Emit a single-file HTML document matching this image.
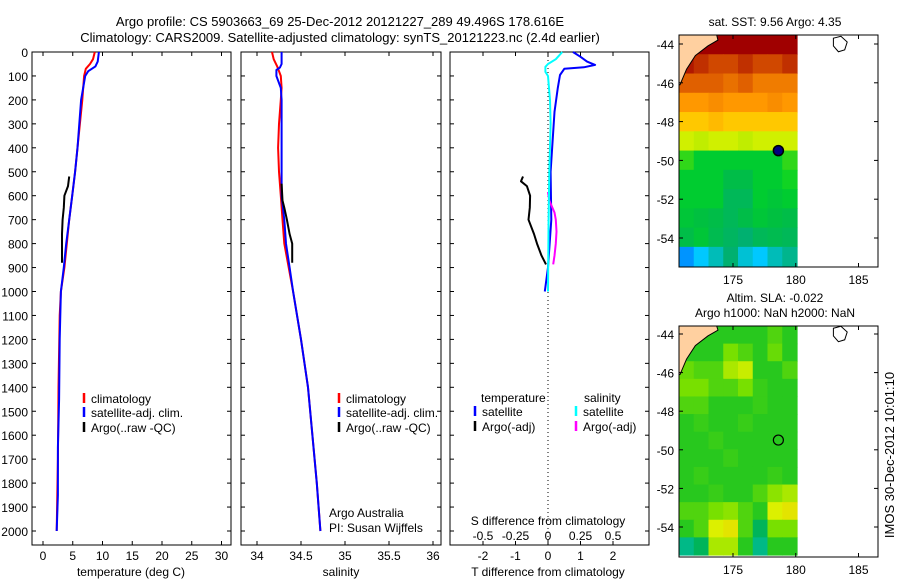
<!DOCTYPE html>
<html><head><meta charset="utf-8"><style>
body{margin:0;background:#fff;}
svg{display:block;font-family:"Liberation Sans",sans-serif;}
</style></head><body>
<svg id="fig" width="900" height="580" viewBox="0 0 900 580">
<text x="340" y="26" text-anchor="middle" font-size="13">Argo profile: CS 5903663_69 25-Dec-2012 20121227_289 49.496S 178.616E</text>
<text x="340" y="42" text-anchor="middle" font-size="13">Climatology: CARS2009. Satellite-adjusted climatology: synTS_20121223.nc (2.4d earlier)</text>
<g id="g"></g>
</svg>
<script>
// ---------- profile data ----------
const tClimDepth=[0,30,50,70,100,200,300,400,500,600,700,800,900,1000,1100,1400,1700,2000];
const tClimVal=[8.7,8.4,7.9,7.2,6.9,6.6,6.2,5.8,5.4,4.9,4.4,4.0,3.6,3.0,2.8,2.6,2.5,2.3];
const tSatDepth=[0,40,60,80,100,200,300,400,500,600,700,800,900,1000,1200,1450,1650,1850,2000];
const tSatVal=[9.4,9.2,8.8,7.6,7.1,6.4,6.1,5.8,5.4,4.9,4.4,3.9,3.5,3.0,2.8,2.7,2.5,2.5,2.3];
const tArgoDepth=[520,560,600,650,700,760,800,880];
const tArgoVal=[4.4,4.2,3.6,3.5,3.3,3.2,3.2,3.2];
const sClimDepth=[0,30,60,100,150,200,300,400,500,600,700,800,900,1000,1200,1400,1600,1800,2000];
const sClimVal=[34.17,34.19,34.23,34.27,34.28,34.27,34.25,34.24,34.25,34.27,34.29,34.31,34.36,34.41,34.5,34.58,34.63,34.68,34.72];
const sSatDepth=[0,50,65,75,100,150,200,300,400,500,600,700,800,900,1000,1200,1400,1600,1800,2000];
const sSatVal=[34.28,34.28,34.26,34.22,34.22,34.27,34.28,34.28,34.28,34.28,34.28,34.31,34.33,34.37,34.41,34.5,34.58,34.63,34.68,34.72];
const sArgoDepth=[550,620,650,700,760,800,840,880];
const sArgoVal=[34.28,34.29,34.31,34.34,34.37,34.4,34.4,34.4];
const dTSatDepth=[0,20,40,54,64,70,96,150,250,500,700,900,1000];
const dTSatVal=[0.77,1.0,1.2,1.45,1.1,0.5,0.37,0.3,0.2,0.08,0.1,0.0,-0.1];
const dSSatDepth=[0,30,50,62,83,100,200,300,500,700,1000];
const dSSatVal=[0.11,0.06,0.0,-0.02,-0.02,0.0,0.015,0.02,0.01,0.005,0.0];
const dTArgoDepth=[520,540,560,600,650,700,760,800,850,887];
const dTArgoVal=[-0.77,-0.83,-0.65,-0.55,-0.56,-0.6,-0.43,-0.34,-0.2,-0.06];
const dSArgoDepth=[585,620,670,700,750,800,850,887];
const dSArgoVal=[0.0,0.01,0.05,0.06,0.065,0.06,0.05,0.04];
const depthTicks=[0,100,200,300,400,500,600,700,800,900,1000,1100,1200,1300,1400,1500,1600,1700,1800,1900,2000];
const tTicks=[0,5,10,15,20,25,30];
const sTicks=[34,34.5,35,35.5,36];
const dTTicks=[-2,-1,0,1,2];
const dSTicks=[-0.5,-0.25,0,0.25,0.5];
// ---------- map data ----------
const mapLonTicks=[175,180,185];
const mapLatTicks=[-44,-46,-48,-50,-52,-54];
const sstGrid=[
[12,12,12,12,12,12,12,12],
[11.5,11,10.5,10.5,11,10.5,10.5,11],
[10,10,10,9.7,10,9.5,9.5,9.5],
[9,9,9.2,9,9,9,9.2,9],
[8,8,8.3,8,8,8,8,8],
[7,6.8,7,7,6.8,7,7,7],
[5.5,5,5,5,5,5,5,5.5],
[5,5,5,4.5,4.5,5,5,5.3],
[5,5,5,4.3,4.3,5,4.8,5],
[4.8,4.6,4.5,4.3,4.5,4.8,4.6,4.5],
[4.5,4.8,4.4,4.2,4,4.3,4.4,4.3],
[2.5,3,3.5,4,3.3,3,3.5,3.8]];
const slaGrid=[
[0,0,0,0,0,0,0.05,0],
[0,0,0,0.1,0.05,0,0.08,0],
[0.08,0.05,0.05,0.15,0.18,0,0,0.05],
[0.1,0.1,0.05,0.05,0.1,0.02,0,0],
[0.05,0.05,0,0,0,0.02,0,0],
[0,0.02,0,0,0.02,0,0,0],
[0,0,0.02,0,0,0,0,0],
[0,0,0,0.02,0,0,0,0],
[0,0.02,0,0,0,0,0.02,0],
[0,0,0.02,0,0,0.05,0.12,0.15],
[0.05,0.05,0.1,0.12,0.05,0,0.2,0.22],
[0,0.05,0.2,0.22,0.05,-0.1,0.1,0.1],
[-0.15,-0.1,0.15,0.15,0,-0.15,0,0]];
const argoLon=[178.616], argoLat=[-49.496];

const NS='http://www.w3.org/2000/svg';
const G=document.getElementById('g');
function el(tag,attrs,parent){const e=document.createElementNS(NS,tag);for(const k in attrs)e.setAttribute(k,attrs[k]);(parent||G).appendChild(e);return e;}
function txt(x,y,s,anchor,size,parent){const t=el('text',{x:x,y:y,'font-size':size||12,'text-anchor':anchor||'start'},parent);t.textContent=s;return t;}
const TOP=52,BOT=545;
const yD=d=>TOP+d*0.2395;

function panel(name,x0,x1,xs,ticks,fmt){
  const r=el('rect',{x:x0,y:TOP,width:x1-x0,height:BOT-TOP,fill:'none',stroke:'#000','stroke-width':1});
  
  
  ticks.forEach(v=>{const x=xs(v);
    el('line',{x1:x,x2:x,y1:TOP,y2:TOP+4,stroke:'#000'});
    el('line',{x1:x,x2:x,y1:BOT,y2:BOT-4,stroke:'#000'});
    const t=txt(x,BOT+15,fmt?fmt(v):String(v),'middle');
    
    
  });
  depthTicks.forEach(d=>{const y=yD(d);
    el('line',{x1:x0,x2:x0+4,y1:y,y2:y,stroke:'#000'});
    el('line',{x1:x1,x2:x1-4,y1:y,y2:y,stroke:'#000'});
  });
}
function series(name,xs,depths,vals,color,w){
  let p='';depths.forEach((d,i)=>{p+=(i?'L':'M')+xs(vals[i]).toFixed(1)+','+yD(d).toFixed(1);});
  const e=el('path',{d:p,fill:'none',stroke:color,'stroke-width':w||2,'stroke-linejoin':'round'});
  
  
}
function legend(name,x,y,color,label){
  el('line',{x1:x,x2:x,y1:y-10,y2:y,stroke:color,'stroke-width':2.5});
  const t=txt(x+7,y,label);
  
  
}
depthTicks.forEach(d=>{const t=txt(28,yD(d)+5,String(d),'end');
  
  });

const xT=v=>43+v*5.95;
panel('temperature-panel',32,231,xT,tTicks);
series('temp-climatology-line',xT,tClimDepth,tClimVal,'#f00');
series('temp-satellite-line',xT,tSatDepth,tSatVal,'#00f');
series('temp-argo-line',xT,tArgoDepth,tArgoVal,'#000');
legend('legend-climatology',84,403,'#f00','climatology');
legend('legend-satellite-adj',84,417,'#00f','satellite-adj. clim.');
legend('legend-argo',84,432,'#000','Argo(..raw -QC)');
let t=txt(131,576,'temperature (deg C)','middle');



const xS=v=>257+(v-34)*88;
panel('salinity-panel',241,441,xS,sTicks);
series('sal-climatology-line',xS,sClimDepth,sClimVal,'#f00');
series('sal-satellite-line',xS,sSatDepth,sSatVal,'#00f');
series('sal-argo-line',xS,sArgoDepth,sArgoVal,'#000');
legend('legend-sal-climatology',339,403,'#f00','climatology');
legend('legend-sal-satellite-adj',339,417,'#00f','satellite-adj. clim.');
legend('legend-sal-argo',339,432,'#000','Argo(..raw -QC)');
t=txt(329,517,'Argo Australia');
t=txt(329,532,'PI: Susan Wijffels');
t=txt(341,576,'salinity','middle');

const xDT=v=>548+v*32.5;
const xDS=v=>548+v*130;
panel('difference-panel',450,649,xDT,dTTicks);
dSTicks.forEach(v=>{const tt=txt(xDS(v),540,String(v),'middle');
  });
el('line',{x1:548,x2:548,y1:TOP,y2:BOT,stroke:'#000','stroke-dasharray':'1,3'});
series('dT-argo-line',xDT,dTArgoDepth,dTArgoVal,'#000');
series('dT-satellite-line',xDT,dTSatDepth,dTSatVal,'#00f');
series('dS-argo-line',xDS,dSArgoDepth,dSArgoVal,'#f0f');
series('dS-satellite-line',xDS,dSSatDepth,dSSatVal,'#0ff');
t=txt(481,402,'temperature');
t=txt(584,402,'salinity');
legend('legend-t-satellite',475,416,'#00f','satellite');
legend('legend-t-argo',475,431,'#000','Argo(-adj)');
legend('legend-s-satellite',576,416,'#0ff','satellite');
legend('legend-s-argo',576,431,'#f0f','Argo(-adj)');
t=txt(548,525,'S difference from climatology','middle');
t=txt(548,576,'T difference from climatology','middle');

function lerpColor(stops,v){
  if(v<=stops[0][0])return 'rgb('+stops[0][1].join(',')+')';
  for(let i=1;i<stops.length;i++){if(v<=stops[i][0]){const a=stops[i-1],b=stops[i],f=(v-a[0])/(b[0]-a[0]);
    return 'rgb('+[0,1,2].map(k=>Math.round(a[1][k]+(b[1][k]-a[1][k])*f)).join(',')+')';}}
  const l=stops[stops.length-1][1];return 'rgb('+l.join(',')+')';
}
const sstStops=[[2,[0,96,255]],[3,[0,200,255]],[4,[0,176,112]],[4.6,[0,192,64]],[5.2,[0,210,40]],[6,[128,224,0]],[7,[208,240,0]],[8,[255,200,0]],[9,[255,152,0]],[10,[224,96,0]],[11,[192,48,0]],[12,[160,0,0]]];
const slaStops=[[-0.2,[0,190,180]],[-0.1,[0,180,90]],[0,[40,200,30]],[0.1,[120,224,0]],[0.2,[220,240,0]],[0.3,[255,180,0]]];
function mapPanel(name,yTop,yBot,lat44,lat54,grid,stops){
  const lon=v=>733+(v-175)*12.55;
  const lat=v=>lat44+(v-(-44))*(lat54-lat44)/(-10);
  const x0=679,x1=878;
  const gx0=679,gx1=lon(180.1),gy0=yTop,gy1=lat(-55.45);
  const nr=grid.length,nc=grid[0].length;
  const g=el('g',{});
  
  
  grid.forEach((row,r)=>row.forEach((v,c)=>{
    const cell=el('rect',{x:(gx0+(gx1-gx0)*c/nc).toFixed(2),y:(gy0+(gy1-gy0)*r/nr).toFixed(2),width:((gx1-gx0)/nc+0.6).toFixed(2),height:((gy1-gy0)/nr+0.6).toFixed(2),fill:lerpColor(stops,v)},g);
    
    
  }));
  const land=el('path',{d:`M${x0},${yTop} L${lon(173.7)},${yTop} L${lon(173.8)},${lat(-43.8)} L${lon(173)},${lat(-44.1)} L${lon(172)},${lat(-44.6)} L${lon(171.3)},${lat(-45.3)} L${x0+1},${lat(-46.1)} L${x0},${lat(-46.1)} Z`,fill:'#ffd0a0',stroke:'#000','stroke-width':1});
  
  const isl=el('path',{d:`M${lon(183)},${lat(-43.7)} L${lon(183.6)},${lat(-43.6)} L${lon(184.1)},${lat(-43.9)} L${lon(183.9)},${lat(-44.3)} L${lon(183.4)},${lat(-44.4)} L${lon(183)},${lat(-44.1)} Z`,fill:'#fff',stroke:'#000'});
  
  const fr=el('rect',{x:x0,y:yTop,width:x1-x0,height:yBot-yTop,fill:'none',stroke:'#000'});
  
  mapLonTicks.forEach(v=>{const x=lon(v);el('line',{x1:x,x2:x,y1:yTop,y2:yTop+4,stroke:'#000'});el('line',{x1:x,x2:x,y1:yBot,y2:yBot-4,stroke:'#000'});
    const tt=txt(x,yBot+17,String(v),'middle');});
  mapLatTicks.forEach(v=>{const y=lat(v);el('line',{x1:x0,x2:x0+4,y1:y,y2:y,stroke:'#000'});el('line',{x1:x1,x2:x1-4,y1:y,y2:y,stroke:'#000'});
    const tt=txt(674,y+5,String(v),'end');});
  return {lon,lat};
}
const m1=mapPanel('sst-map',35,267,44,238,sstGrid,sstStops);
argoLon.forEach((lo,i)=>{const c=el('circle',{cx:m1.lon(lo),cy:m1.lat(argoLat[i]),r:5,fill:'#000080',stroke:'#000','stroke-width':1.5});
  });
t=txt(775,26,'sat. SST: 9.56 Argo: 4.35','middle');
const m2=mapPanel('sla-map',326,557,334,527,slaGrid,slaStops);
argoLon.forEach((lo,i)=>{const c=el('circle',{cx:m2.lon(lo),cy:m2.lat(argoLat[i]),r:5,fill:'none',stroke:'#000','stroke-width':1.2});
  });
t=txt(775,302,'Altim. SLA: -0.022','middle');
t=txt(775,317,'Argo h1000: NaN h2000: NaN','middle');
t=txt(0,0,'IMOS 30-Dec-2012 10:01:10','middle',13);
t.setAttribute('transform','translate(894,455) rotate(-90)');

</script>
</body></html>
